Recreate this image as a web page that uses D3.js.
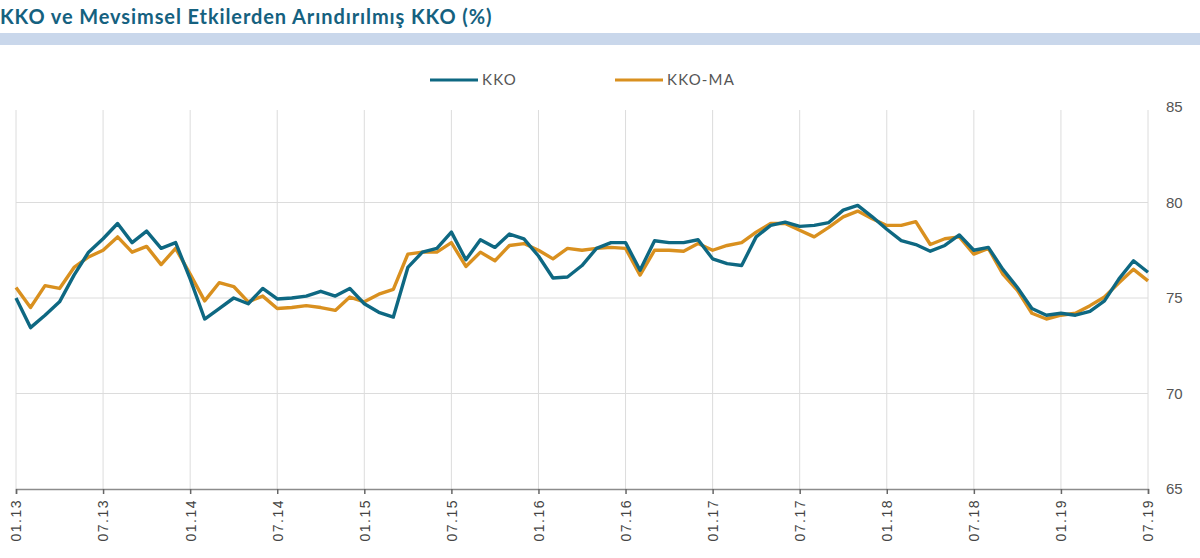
<!DOCTYPE html>
<html>
<head>
<meta charset="utf-8">
<script src="https://cdn.jsdelivr.net/npm/d3@7"></script>
<style>
  body { margin: 0; background: #fff; }
  svg { display: block; }
</style>
</head>
<body>
<div id="chart"></div>
<script>
// monthly, 01.13 .. 07.19
const kko = [
  75.0, 73.45, 74.1, 74.8, 76.2, 77.4, 78.1, 78.9, 77.9, 78.5, 77.6, 77.9,
  76.0, 73.9, 74.45, 75.0, 74.7, 75.5, 74.95, 75.0, 75.1, 75.35, 75.1, 75.5,
  74.7, 74.25, 74.0, 76.6, 77.4, 77.6, 78.45, 77.0, 78.05, 77.65, 78.35, 78.1,
  77.2, 76.05, 76.1, 76.7, 77.6, 77.9, 77.9, 76.45, 78.0, 77.9, 77.9, 78.05,
  77.05, 76.8, 76.7, 78.2, 78.8, 78.97, 78.75, 78.8, 78.95, 79.6, 79.85, 79.25,
  78.6, 78.0, 77.8, 77.45, 77.75, 78.3, 77.5, 77.65, 76.5, 75.55, 74.45, 74.1,
  74.2, 74.1, 74.3, 74.85, 76.0, 76.95, 76.35
];
const kkoMA = [
  75.55, 74.5, 75.65, 75.5, 76.6, 77.15, 77.5, 78.2, 77.4, 77.7, 76.75, 77.6,
  76.25, 74.85, 75.8, 75.6, 74.8, 75.1, 74.45, 74.5, 74.6, 74.5, 74.35, 75.05,
  74.8, 75.2, 75.45, 77.3, 77.4, 77.4, 77.9, 76.65, 77.4, 76.95, 77.75, 77.85,
  77.5, 77.05, 77.6, 77.5, 77.6, 77.65, 77.6, 76.2, 77.5, 77.5, 77.45, 77.85,
  77.5, 77.75, 77.9, 78.45, 78.9, 78.9, 78.55, 78.2, 78.7, 79.25, 79.55, 79.15,
  78.8, 78.8, 79.0, 77.8, 78.1, 78.2, 77.3, 77.6, 76.25, 75.4, 74.2, 73.9,
  74.1, 74.2, 74.6, 75.05, 75.8, 76.5, 75.9
];
const tickLabels = ["01.13","07.13","01.14","07.14","01.15","07.15","01.16",
  "07.16","01.17","07.17","01.18","07.18","01.19","07.19"];
const yTicks = [65, 70, 75, 80, 85];
const seriesNames = ["KKO", "KKO-MA"];

const width = 1200, height = 558;
const colors = { "KKO": "#0e6882", "KKO-MA": "#d9901f" };

const svg = d3.select("#chart").append("svg")
  .attr("width", width)
  .attr("height", height)
  .style("font-family", "Lato, 'Open Sans', sans-serif");

// title + band
svg.append("text")
  .attr("x", 0).attr("y", 24)
  .attr("fill", "#15617f")
  .style("font-size", "20px")
  .style("font-weight", "bold")
  .style("letter-spacing", "0.9px")
  .text("KKO ve Mevsimsel Etkilerden Arındırılmış KKO (%)");

svg.append("rect")
  .attr("x", 0).attr("y", 33)
  .attr("width", width).attr("height", 12)
  .attr("fill", "#c9d7eb");

const x = d3.scaleLinear().domain([0, kko.length - 1]).range([16, 1148]);
const y = d3.scaleLinear().domain([65, 85]).range([489, 107]);

const tickIdx = tickLabels.map((d, i) => i * 6);

// grid
svg.append("g")
  .selectAll("line")
  .data(tickIdx)
  .join("line")
    .attr("x1", d => x(d)).attr("x2", d => x(d))
    .attr("y1", 110).attr("y2", y(65))
    .attr("stroke", "#dcdcdc");

svg.append("g")
  .selectAll("line")
  .data([70, 75, 80])
  .join("line")
    .attr("x1", x(0)).attr("x2", x(78))
    .attr("y1", d => y(d)).attr("y2", d => y(d))
    .attr("stroke", "#dcdcdc");

// x axis
const xAxis = svg.append("g")
  .attr("transform", `translate(0,${y(65)})`)
  .call(d3.axisBottom(x)
    .tickValues(tickIdx)
    .tickFormat((d, i) => tickLabels[i])
    .tickSize(5));
xAxis.select(".domain").attr("stroke", "#8c8c8c").attr("stroke-width", 1.5);
xAxis.selectAll(".tick line").attr("stroke", "#666").attr("stroke-width", 1.5);
xAxis.selectAll("text")
  .attr("transform", "rotate(-90)")
  .attr("x", -10).attr("y", 0).attr("dy", "0.35em")
  .style("text-anchor", "end")
  .style("font-size", "14px")
  .style("letter-spacing", "1.5px")
  .attr("fill", "#444");

// y axis on right
const yAxis = svg.append("g")
  .attr("transform", `translate(1164,0)`)
  .call(d3.axisRight(y).tickValues(yTicks).tickSize(0));
yAxis.select(".domain").remove();
yAxis.selectAll("text")
  .attr("x", 2)
  .style("font-size", "15px")
  .attr("fill", "#555");

// lines
const line = d3.line().x((d, i) => x(i)).y(d => y(d));
const data = [
  { name: "KKO-MA", values: kkoMA },
  { name: "KKO", values: kko }
];
svg.append("g")
  .selectAll("path")
  .data(data)
  .join("path")
    .attr("d", d => line(d.values))
    .attr("fill", "none")
    .attr("stroke", d => colors[d.name])
    .attr("stroke-width", 3.4)
    .attr("stroke-linejoin", "round");

// legend
const legendX = [430, 615];
const leg = svg.append("g")
  .selectAll("g")
  .data(seriesNames)
  .join("g")
    .attr("transform", (d, i) => `translate(${legendX[i]},80)`);
leg.append("line")
  .attr("x1", 0).attr("x2", 48)
  .attr("stroke", d => colors[d])
  .attr("stroke-width", 3);
leg.append("text")
  .attr("x", 52).attr("dy", "0.35em")
  .style("font-size", "15px")
  .style("letter-spacing", "1.2px")
  .attr("fill", "#555")
  .text(d => d);
</script>
</body>
</html>
